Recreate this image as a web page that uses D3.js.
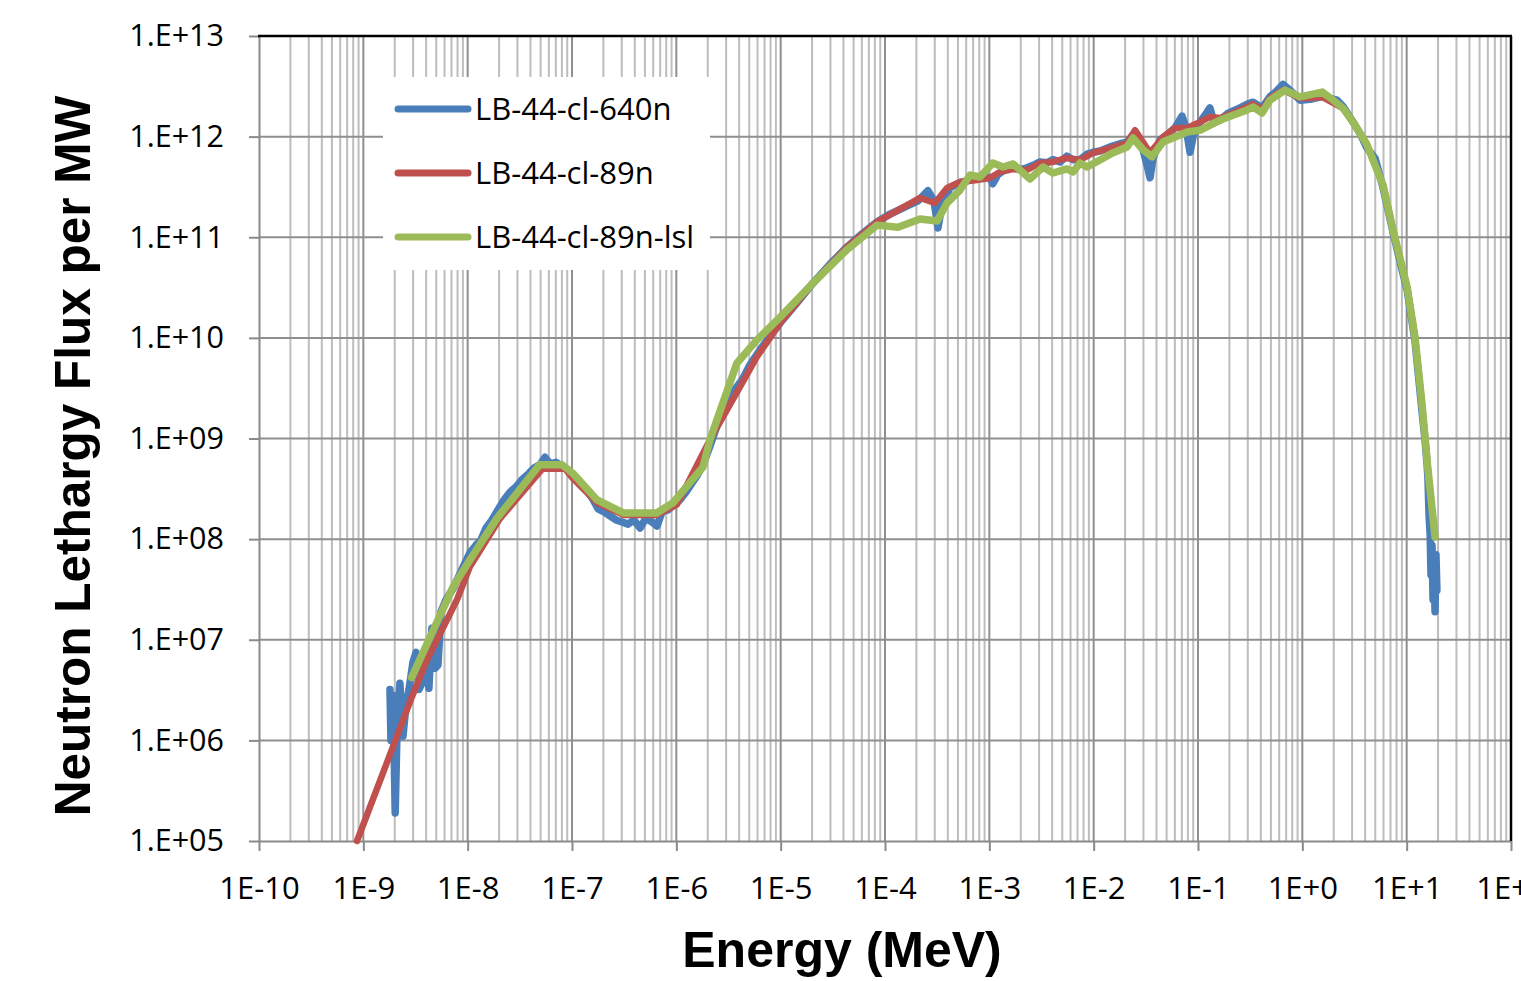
<!DOCTYPE html>
<html><head><meta charset="utf-8">
<script src="https://cdn.jsdelivr.net/npm/d3@7"></script>
<style>body{margin:0;background:#fff} svg{display:block}</style>
</head><body>
<svg id="chart" width="1521" height="981"></svg>
<script>
// ---- data (Energy in MeV, lethargy flux per MW) ----
const seriesNames = ["LB-44-cl-640n", "LB-44-cl-89n", "LB-44-cl-89n-lsl"];
const seriesColors = ["#4a7ebb", "#c0504d", "#9bbb59"];

const energy640n = [1.8e-9,1.84e-9,1.93e-9,2.02e-9,2.11e-9,2.24e-9,2.4e-9,2.56e-9,2.74e-9,2.99e-9,3.2e-9,3.41e-9,3.65e-9,3.9e-9,4.25e-9,4.54e-9,4.85e-9,5.19e-9,5.55e-9,6.2e-9,7.07e-9,8.07e-9,9.2e-9,1.05e-8,1.2e-8,1.34e-8,1.5e-8,1.71e-8,1.95e-8,2.23e-8,2.55e-8,2.91e-8,3.32e-8,3.79e-8,4.32e-8,4.94e-8,5.51e-8,6.16e-8,7.03e-8,8.02e-8,9.16e-8,1.05e-7,1.19e-7,1.36e-7,1.55e-7,1.78e-7,2.03e-7,2.31e-7,2.64e-7,3.02e-7,3.44e-7,3.93e-7,4.49e-7,5.12e-7,5.85e-7,6.53e-7,7.29e-7,8.32e-7,9.5e-7,1.08e-6,1.24e-6,1.41e-6,1.61e-6,1.84e-6,2.1e-6,2.51e-6,2.99e-6,3.57e-6,4.26e-6,5.08e-6,6.34e-6,7.91e-6,9.9e-6,1.37e-5,2.04e-5,2.97e-5,4.32e-5,6.02e-5,8.37e-5,1.12e-4,1.56e-4,2.07e-4,2.58e-4,2.95e-4,3.22e-4,3.52e-4,4.2e-4,5.24e-4,6.53e-4,8.14e-4,1.02e-3,1.08e-3,1.21e-3,1.41e-3,1.69e-3,1.97e-3,2.3e-3,2.74e-3,3.06e-3,3.57e-3,4.08e-3,4.76e-3,5.55e-3,6.34e-3,7.4e-3,8.64e-3,9.9e-3,1.15e-2,1.44e-2,1.79e-2,2.09e-2,2.38e-2,2.66e-2,2.97e-2,3.25e-2,3.47e-2,3.71e-2,4.33e-2,5.05e-2,6.02e-2,7.03e-2,7.68e-2,8.39e-2,9.16e-2,0.105,0.119,0.13,0.142,0.163,0.19,0.217,0.253,0.295,0.337,0.411,0.49,0.56,0.653,0.73,0.83,0.95,1.19,1.55,1.84,2.15,2.45,3.06,3.6,4.17,4.98,5.94,7.4,8.64,10.1,12.0,13.4,14.0,15.0,15.7,16.0,16.4,16.8,17.1,17.5,17.9,18.3,18.7,19.1,19.5];
const flux640n = [3.2e6,1.0e6,2.8e6,1.9e5,1.4e6,3.7e6,1.1e6,2.2e6,3.2e6,6.0e6,7.5e6,3.2e6,3.7e6,7.0e6,3.3e6,1.3e7,5.2e6,5.6e6,1.9e7,2.5e7,3.1e7,4.1e7,5.5e7,7.3e7,8.7e7,9.8e7,1.29e8,1.55e8,1.95e8,2.45e8,2.94e8,3.3e8,3.9e8,4.4e8,5.1e8,5.5e8,6.5e8,5.6e8,5.8e8,5.3e8,4.9e8,4.1e8,3.5e8,3.1e8,2.6e8,2.0e8,1.86e8,1.7e8,1.55e8,1.48e8,1.41e8,1.55e8,1.29e8,1.62e8,1.48e8,1.35e8,1.86e8,1.95e8,2.2e8,2.45e8,2.94e8,3.6e8,4.4e8,5.8e8,8.4e8,1.43e9,2.15e9,3.0e9,3.8e9,5.4e9,7.6e9,1.04e10,1.41e10,2.1e10,3.5e10,5.4e10,8.0e10,1.08e11,1.42e11,1.7e11,2.0e11,2.3e11,2.9e11,2.3e11,1.24e11,2.1e11,3.1e11,3.5e11,3.7e11,3.9e11,3.9e11,3.4e11,4.2e11,4.7e11,4.9e11,4.7e11,4.9e11,5.3e11,5.6e11,5.5e11,5.9e11,5.6e11,6.4e11,5.9e11,5.9e11,6.7e11,7.0e11,7.2e11,7.9e11,8.5e11,8.8e11,1.04e12,9.3e11,7.4e11,5.2e11,3.9e11,6.1e11,9.3e11,1.04e12,1.22e12,1.6e12,1.22e12,7.0e11,1.11e12,1.4e12,1.68e12,1.93e12,1.4e12,1.46e12,1.68e12,1.8e12,1.93e12,2.1e12,2.2e12,1.93e12,2.5e12,2.8e12,3.3e12,3.0e12,2.65e12,2.3e12,2.35e12,2.5e12,2.4e12,2.3e12,2.0e12,1.4e12,1.06e12,7.7e11,6.1e11,3.1e11,1.13e11,5.7e10,3.0e10,9.5e9,3.0e9,1.9e9,9.7e8,5.5e8,4.0e8,1.7e8,1.1e8,4.4e7,8.7e7,2.5e7,6.2e7,1.9e7,7.0e7,3.1e7];

const energy89n = [8.7e-10,1.92e-9,2.92e-9,4.07e-9,7.9e-9,1.05e-8,2.04e-8,5.2e-8,8.6e-8,1.0e-7,1.74e-7,3.1e-7,6.5e-7,1.01e-6,2.1e-6,4.07e-6,5.93e-6,9.9e-6,2.04e-5,4.32e-5,8.4e-5,2.17e-4,3.01e-4,3.93e-4,5.24e-4,7.62e-4,1.01e-3,1.26e-3,1.69e-3,2.3e-3,3.06e-3,4.07e-3,5.55e-3,7.4e-3,9.86e-3,1.44e-2,2.09e-2,2.49e-2,3.47e-2,4.62e-2,6.03e-2,7.85e-2,0.105,0.13,0.163,0.217,0.295,0.337,0.411,0.49,0.653,0.95,1.19,1.55,1.97,2.45,3.06,4.17,5.93,7.4,10.1,12.0,14.0,16.0,18.7];
const flux89n = [1.0e5,8.6e5,2.7e6,6.3e6,2.5e7,5.3e7,1.6e8,5.0e8,5.0e8,4.1e8,2.3e8,1.74e8,1.74e8,2.2e8,9.7e8,3.25e9,6.5e9,1.41e10,3.5e10,8.0e10,1.42e11,2.46e11,2.19e11,3.09e11,3.54e11,3.71e11,3.88e11,4.45e11,4.77e11,4.66e11,5.47e11,5.6e11,6.14e11,5.86e11,6.9e11,7.7e11,8.65e11,1.16e12,6.9e11,9.9e11,1.22e12,1.22e12,1.4e12,1.57e12,1.53e12,1.72e12,1.97e12,2.11e12,1.84e12,2.42e12,2.9e12,2.42e12,2.42e12,2.48e12,2.16e12,1.92e12,1.4e12,8.3e11,3.3e11,1.18e11,3.2e10,1.02e10,2.25e9,4.9e8,1.05e8];

const energy89nLsl = [2.9e-9,7.2e-9,1.05e-8,1.9e-8,4.9e-8,8.0e-8,1.02e-7,1.74e-7,3.1e-7,6.5e-7,9.3e-7,1.8e-6,2.1e-6,3.8e-6,5.9e-6,9.9e-6,2.04e-5,4.3e-5,8.4e-5,1.33e-4,2.17e-4,3.16e-4,3.93e-4,5.24e-4,6.53e-4,8.15e-4,1.08e-3,1.35e-3,1.69e-3,2.45e-3,3.27e-3,4.07e-3,5.55e-3,6.34e-3,7.4e-3,8.63e-3,1.15e-2,1.53e-2,2.09e-2,2.38e-2,2.97e-2,3.62e-2,4.62e-2,7.85e-2,0.105,0.163,0.295,0.337,0.411,0.49,0.683,0.95,1.55,1.97,2.45,3.06,4.17,5.93,7.4,10.1,12.0,14.0,16.0,18.7];
const flux89nLsl = [4.2e6,3.3e7,6.2e7,1.6e8,5.5e8,5.5e8,4.5e8,2.45e8,1.82e8,1.82e8,2.3e8,5.2e8,9.7e8,5.6e9,9.5e9,1.61e10,3.5e10,7.5e10,1.32e11,1.26e11,1.52e11,1.45e11,2.19e11,2.95e11,4.16e11,3.97e11,5.47e11,4.99e11,5.35e11,3.79e11,4.99e11,4.35e11,4.77e11,4.45e11,5.47e11,4.99e11,5.86e11,6.9e11,7.9e11,9.7e11,7.4e11,6.3e11,8.85e11,1.11e12,1.16e12,1.46e12,1.84e12,1.97e12,1.72e12,2.31e12,2.9e12,2.48e12,2.77e12,2.31e12,1.92e12,1.4e12,8.3e11,3.3e11,1.18e11,3.2e10,1.02e10,2.25e9,4.9e8,1.05e8];

const xTickValues = [1e-10,1e-9,1e-8,1e-7,1e-6,1e-5,1e-4,1e-3,1e-2,1e-1,1e0,1e1,1e2];
const xTickLabels = ["1E-10","1E-9","1E-8","1E-7","1E-6","1E-5","1E-4","1E-3","1E-2","1E-1","1E+0","1E+1","1E+2"];
const yTickValues = [1e5,1e6,1e7,1e8,1e9,1e10,1e11,1e12,1e13];
const yTickLabels = ["1.E+05","1.E+06","1.E+07","1.E+08","1.E+09","1.E+10","1.E+11","1.E+12","1.E+13"];
const xTitle = "Energy (MeV)";
const yTitle = "Neutron Lethargy Flux per MW";

// ---- drawing ----
const svg = d3.select("#chart");
const L = 259, R = 1511, T = 36, B = 841;
const x = d3.scaleLog().domain([1e-10, 1e2]).range([L, R]);
const y = d3.scaleLog().domain([1e5, 1e13]).range([B, T]);
const labelFont = "'Open Sans', sans-serif";

svg.append("rect").attr("width",1521).attr("height",981).attr("fill","#fff");

// minor vertical grid
const minorX = [];
xTickValues.slice(0,-1).forEach(d => { for (let k=2;k<=9;k++) minorX.push(d*k); });
svg.append("g").selectAll("line").data(minorX).join("line")
  .attr("x1", d=>x(d)).attr("x2", d=>x(d)).attr("y1", T).attr("y2", B)
  .attr("stroke", "#bdbdbd").attr("stroke-width", 2);

// major vertical grid
svg.append("g").selectAll("line").data(xTickValues.slice(1,-1)).join("line")
  .attr("x1", d=>x(d)).attr("x2", d=>x(d)).attr("y1", T).attr("y2", B)
  .attr("stroke", "#8f8f8f").attr("stroke-width", 2);

// horizontal grid
svg.append("g").selectAll("line").data(yTickValues.slice(1,-1)).join("line")
  .attr("x1", L).attr("x2", R).attr("y1", d=>y(d)).attr("y2", d=>y(d))
  .attr("stroke", "#8f8f8f").attr("stroke-width", 2);

// axes
const xAxis = d3.axisBottom(x).tickValues(xTickValues).tickFormat((d,i)=>xTickLabels[i])
  .tickSizeInner(10).tickSizeOuter(0).tickPadding(26);
const gx = svg.append("g").attr("transform", `translate(0,${B})`).call(xAxis);
gx.select(".domain").attr("stroke", "#8a8a8a").attr("stroke-width", 2);
gx.selectAll(".tick line").attr("stroke", "#8a8a8a").attr("stroke-width", 2);
gx.selectAll(".tick text").attr("font-family", labelFont).attr("font-size", 31).attr("fill", "#000");

const yAxis = d3.axisLeft(y).tickValues(yTickValues).tickFormat((d,i)=>yTickLabels[i])
  .tickSizeInner(10).tickSizeOuter(0).tickPadding(25);
const gy = svg.append("g").attr("transform", `translate(${L},0)`).call(yAxis);
gy.select(".domain").attr("stroke", "#8a8a8a").attr("stroke-width", 2);
gy.selectAll(".tick line").attr("stroke", "#8a8a8a").attr("stroke-width", 2);
gy.selectAll(".tick text").attr("font-family", labelFont).attr("font-size", 30.5).attr("fill", "#000");

// top & right border
svg.append("line").attr("x1", L-1).attr("x2", R+1).attr("y1", T).attr("y2", T).attr("stroke", "#000").attr("stroke-width", 2.5);
svg.append("line").attr("x1", R).attr("x2", R).attr("y1", T).attr("y2", B).attr("stroke", "#000").attr("stroke-width", 2.5);

// legend box (behind series)
svg.append("rect").attr("x", 383).attr("y", 77).attr("width", 327).attr("height", 193).attr("fill", "#fff");

// series
const line = d3.line().x(d=>x(d[0])).y(d=>y(d[1]));
const series = [
  {name: seriesNames[0], color: seriesColors[0], w: 7.5, data: d3.zip(energy640n, flux640n)},
  {name: seriesNames[1], color: seriesColors[1], w: 6.5, data: d3.zip(energy89n, flux89n)},
  {name: seriesNames[2], color: seriesColors[2], w: 7.5, data: d3.zip(energy89nLsl, flux89nLsl)}
];
svg.append("defs").append("clipPath").attr("id","clip").append("rect")
  .attr("x", L).attr("y", T).attr("width", R-L).attr("height", B-T+4);
svg.append("g").attr("clip-path","url(#clip)").selectAll("path").data(series).join("path")
  .attr("d", d=>line(d.data)).attr("fill","none").attr("stroke", d=>d.color)
  .attr("stroke-width", d=>d.w).attr("stroke-linejoin","round").attr("stroke-linecap","round");

// legend entries
const lg = svg.append("g").selectAll("g").data(series).join("g")
  .attr("transform", (d,i)=>`translate(0,${109 + i*64})`);
lg.append("line").attr("x1", 398).attr("x2", 468).attr("y1", 0).attr("y2", 0)
  .attr("stroke", d=>d.color).attr("stroke-width", 7).attr("stroke-linecap","round");
lg.append("text").attr("x", 475).attr("y", 0).attr("dy", "0.36em").text(d=>d.name)
  .attr("font-family", labelFont).attr("font-size", 31).attr("fill", "#000");

// titles
svg.append("text").attr("x", 842).attr("y", 967).attr("text-anchor","middle").text(xTitle)
  .attr("font-family", "'Liberation Sans', Arial, sans-serif").attr("font-weight","bold").attr("font-size", 50).attr("fill","#000");
svg.append("text").attr("transform", "translate(90,456) rotate(-90)").attr("text-anchor","middle").text(yTitle)
  .attr("font-family", "'Liberation Sans', Arial, sans-serif").attr("font-weight","bold").attr("font-size", 49.5).attr("fill","#000");
</script>
</body></html>
